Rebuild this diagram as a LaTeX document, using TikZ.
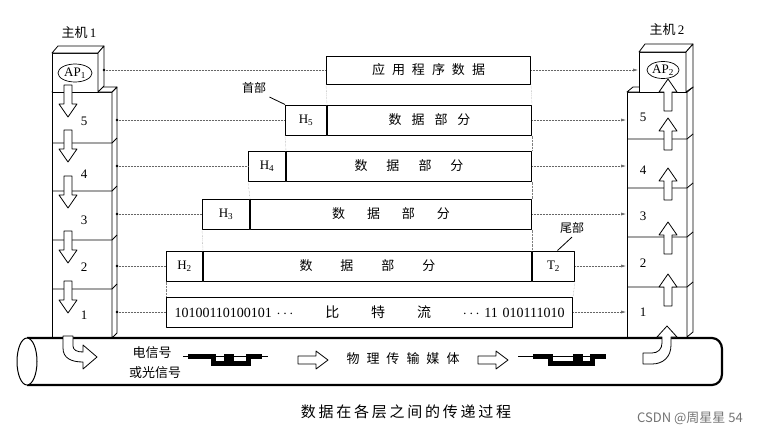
\documentclass[tikz,border=0pt]{standalone}
\usepackage{fontspec}
\setmainfont{Liberation Serif}
\newfontfamily\cjk{Noto Sans CJK SC}
\usetikzlibrary{shapes.geometric,arrows.meta}
\makeatletter
\newcommand{\spreadtext}[2]{\@tfor\tmpch:=#2\do{\tmpch\hspace{#1}}\unskip}
\makeatother
\begin{document}
\begin{tikzpicture}[x=1pt, y=-1pt, line join=round,
    pdu/.style={draw, line width=1pt, minimum height=30pt, inner sep=0pt, anchor=west, font=\fontsize{13}{13}\selectfont},
    link/.style={densely dotted, black!60, line width=0.5pt},
    guide/.style={densely dotted, black!50, line width=0.4pt},
    blk/.style={draw, line width=0.8pt, fill=white},
    wave/.style={line width=5pt, line join=miter, line cap=butt},
    num/.style={font=\fontsize{13}{13}\selectfont},
    zh/.style={font=\cjk\fontsize{12}{12}\selectfont}]
\useasboundingbox (0,0) rectangle (778,437);

% host 1
\draw[blk] (52,92) rectangle (112,338);
\draw[blk] (112,92) -- (117,87) -- (117,333) -- (112,338) -- cycle;
\draw[blk] (52,92) -- (57,87) -- (117,87) -- (112,92) -- cycle;
\foreach \y in {143,191,240,289}
  \draw[line width=0.8pt] (52,\y) -- (112,\y) -- (117,\y-5);
\draw[blk] (52,53) rectangle (98,92);
\draw[blk] (52,53) -- (58,46) -- (104,46) -- (98,53) -- cycle;
\draw[blk] (98,53) -- (104,46) -- (104,86) -- (98,92) -- cycle;
\node[draw, ellipse, line width=0.7pt, minimum width=34pt, minimum height=18pt, inner sep=0pt, num] (ap1) at (75,73) {AP\textsubscript{1}};
\foreach \c in {101,146,192,247,297}
  \draw[blk] (64,\c-16) -- (64,\c+3) -- (59,\c+3) -- (68,\c+16) -- (77,\c+3) -- (72,\c+3) -- (72,\c-16) -- cycle;
\foreach \n/\y in {5/121,4/174,3/220,2/267,1/315}
  \node[num] (ln\n) at (84,\y) {\n};
\node[font=\fontsize{13}{13}\selectfont] (host1) at (79,33) {{\cjk 主机}\,1};

% host 2
\draw[blk] (627,92) rectangle (687,337);
\draw[blk] (687,92) -- (693,87) -- (693,332) -- (687,337) -- cycle;
\draw[blk] (627,92) -- (633,87) -- (693,87) -- (687,92) -- cycle;
\foreach \y in {139,188,237,287}
  \draw[line width=0.8pt] (627,\y) -- (687,\y) -- (693,\y-5);
\draw[blk] (639,52) rectangle (686,92);
\draw[blk] (639,52) -- (645,44) -- (693,44) -- (686,52) -- cycle;
\draw[blk] (686,52) -- (693,44) -- (693,87) -- (686,92) -- cycle;
\node[draw, ellipse, line width=0.7pt, minimum width=32pt, minimum height=17pt, inner sep=0pt, num] (ap2) at (663,70) {AP\textsubscript{2}};
\foreach \c in {95,134,184,238,290}
  \draw[blk] (664,\c+16) -- (664,\c-3) -- (659,\c-3) -- (668,\c-16) -- (677,\c-3) -- (672,\c-3) -- (672,\c+16) -- cycle;
\foreach \n/\y in {5/117,4/170,3/216,2/263,1/312}
  \node[num] (rn\n) at (643,\y) {\n};
\node[font=\fontsize{13}{13}\selectfont] (host2) at (667,30) {{\cjk 主机}\,2};

% data units
\node[pdu, minimum width=204pt, minimum height=28pt, font=\cjk\fontsize{13}{13}\selectfont] (app) at (326,70) {\spreadtext{7pt}{应用程序数据}};
\node[pdu, minimum width=41pt] (h5) at (285,120) {H\textsubscript{5}};
\node[pdu, minimum width=204pt, font=\cjk\fontsize{13}{13}\selectfont] (d5) at (h5.east) {\spreadtext{10pt}{数据部分}};
\node[pdu, minimum width=37pt] (h4) at (248,166) {H\textsubscript{4}};
\node[pdu, minimum width=245pt, font=\cjk\fontsize{13}{13}\selectfont] (d4) at (h4.east) {\spreadtext{19pt}{数据部分}};
\node[pdu, minimum width=47pt] (h3) at (202,214) {H\textsubscript{3}};
\node[pdu, minimum width=281pt, font=\cjk\fontsize{13}{13}\selectfont] (d3) at (h3.east) {\spreadtext{22pt}{数据部分}};
\node[pdu, minimum width=36pt] (h2) at (166,266) {H\textsubscript{2}};
\node[pdu, minimum width=328pt, font=\cjk\fontsize{13}{13}\selectfont] (d2) at (h2.east) {\spreadtext{28pt}{数据部分}};
\node[pdu, minimum width=42pt] (t2) at (d2.east) {T\textsubscript{2}};
\node[pdu, text width=390pt, inner xsep=8pt, font=\fontsize{14}{14}\selectfont] (bits) at (166,312)
  {10100110100101 $\cdots$\hfill{\cjk 比}\hfill{\cjk 特}\hfill{\cjk 流}\hfill$\cdots$ 11 010111010};

\draw[guide] (app.south west) -- (d5.north west);
\draw[guide] (app.south east) -- (d5.north east);
\draw[guide] (h5.south west) -- (d4.north west);
\draw[guide] (d5.south east) -- (d4.north east);
\draw[guide] (h4.south west) -- (d3.north west);
\draw[guide] (d4.south east) -- (d3.north east);
\draw[guide] (h3.south west) -- (d2.north west);
\draw[guide] (d3.south east) -- (d2.north east);
\draw[guide] (h2.south west) -- (bits.north west);
\draw[guide] (t2.south east) -- (bits.north east);

% peer links
\coordinate (l0) at (104,70);
\coordinate (r0) at (638,70);
\foreach \n/\y in {5/120,4/166,3/214,2/266,1/312} {
  \coordinate (l\n) at (117,\y);
  \coordinate (r\n) at (626,\y);
}
\draw[link] (l0) -- (app.west);
\draw[link, -{Latex[length=5pt,width=3pt]}] (app.east) -- (r0);
\fill (l0) circle (1.3pt);
\foreach \n/\a/\b in {5/h5/d5, 4/h4/d4, 3/h3/d3, 2/h2/t2, 1/bits/bits} {
  \draw[link] (l\n) -- (\a.west);
  \draw[link, -{Latex[length=5pt,width=3pt]}] (\b.east) -- (r\n);
  \fill (l\n) circle (1.4pt);
}

\node[zh] (shou) at (254,88) {首部};
\draw[line width=0.8pt] (shou.south east) -- (h5.north west);
\node[zh] (wei) at (572,228) {尾部};
\draw[line width=0.8pt] (wei.south) -- ([xshift=4pt]t2.north);

% medium
\draw[line width=2.2pt] (27,338) -- (712,338) to[out=0,in=90] (722,349) -- (722,374) to[out=-90,in=0] (712,385) -- (27,385);
\draw[line width=1pt, fill=white] (27,361.5) ellipse [x radius=10pt, y radius=23.5pt];
\node[zh, font=\cjk\fontsize{13}{13}\selectfont] (sig1) at (152,353) {电信号};
\node[zh, font=\cjk\fontsize{13}{13}\selectfont] (sig2) at (155,373) {或光信号};
\draw[line width=0.6pt] (183,356) -- (268,356);
\draw[wave] (188,356) -- (213,356) -- (213,363) -- (226,363) -- (226,356) -- (231,356) -- (231,363) -- (248,363) -- (248,356) -- (262,356);
\draw[line width=0.8pt] (298,356) -- (316,356) -- (316,351) -- (328,360) -- (316,369) -- (316,364) -- (298,364) -- cycle;
\node[font=\cjk\fontsize{13}{13}\selectfont] (medium) at (403,359) {\spreadtext{7pt}{物理传输媒体}};
\draw[line width=0.8pt] (478,356) -- (496,356) -- (496,351) -- (508,360) -- (496,369) -- (496,364) -- (478,364) -- cycle;
\draw[line width=0.6pt] (518,356) -- (606,356);
\draw[wave] (533,356) -- (550,356) -- (550,363) -- (575,363) -- (575,356) -- (580,356) -- (580,363) -- (592,363) -- (592,356) -- (606,356);

\draw[blk] (63,336) -- (63,348) .. controls (63,358) and (71,362) .. (83,362) -- (83,369) -- (97,357) -- (83,345) -- (83,352) .. controls (77,352) and (73,350) .. (73,346) -- (73,336) -- cycle;
\draw[blk] (643,353) -- (652,353) .. controls (658,353) and (662,349) .. (662,343) -- (662,337) -- (657,337) -- (667,326) -- (677,337) -- (671,337) -- (671,345) .. controls (671,357) and (663,364) .. (652,364) -- (643,364) -- cycle;

\node[font=\cjk\fontsize{15}{15}\selectfont] (caption) at (406,412) {\spreadtext{2.75pt}{数据在各层之间的传递过程}};
\node[font=\cjk\fontsize{13}{13}\selectfont, text=black!55] (mark) at (690,418) {CSDN @周星星 54};
\end{tikzpicture}
\end{document}
